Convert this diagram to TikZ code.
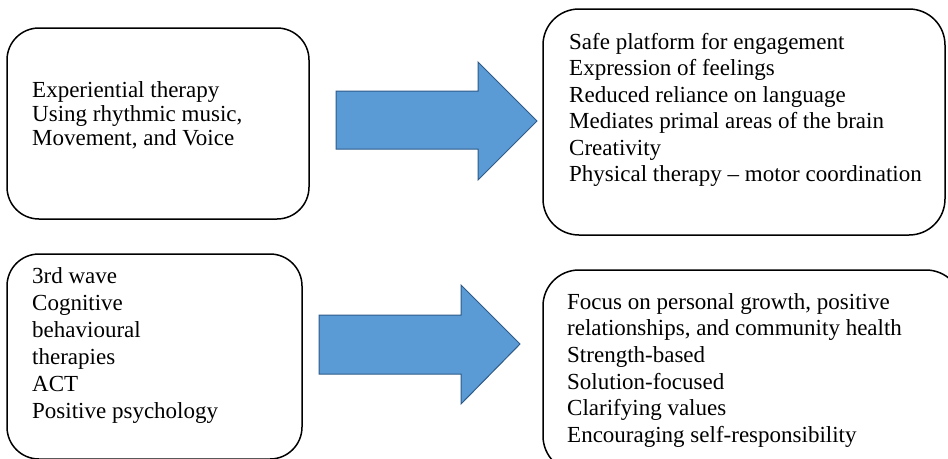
\documentclass[tikz,border=0pt]{standalone}
\usepackage{fontspec}
\setmainfont{Liberation Serif}
\definecolor{arrowfill}{HTML}{5B9BD5}
\definecolor{arrowline}{HTML}{2E5C8A}
\begin{document}
\begin{tikzpicture}[x=1pt,y=-1pt,
  boxstyle/.style={draw=black,line width=1.5pt},
  arrowstyle/.style={fill=arrowfill,draw=arrowline,line width=1pt,line join=miter},
  txt/.style={inner sep=0pt,anchor=base west,align=left,font=\fontsize{23}{26.5}\selectfont}]
\useasboundingbox (0,0) rectangle (948,458);
\begin{scope}
\clip (0,0) rectangle (948,458);
\draw[boxstyle,rounded corners=32pt] (7,28) rectangle (309,219);
\draw[boxstyle,rounded corners=36pt] (543,9) rectangle (945,235);
\draw[boxstyle,rounded corners=32pt] (7,254) rectangle (302,459);
\draw[boxstyle,rounded corners=36pt] (543,270) rectangle (962,472);
\end{scope}
\draw[arrowstyle] (336,91) -- (478,91) -- (478,62) -- (537,121) -- (478,180) -- (478,149) -- (336,149) -- cycle;
\draw[arrowstyle] (319,315) -- (461,315) -- (461,285) -- (520,344) -- (461,404) -- (461,374) -- (319,374) -- cycle;
\node[txt,font=\fontsize{23}{24}\selectfont] (t1) at (32,145) {Experiential therapy\\Using rhythmic music,\\Movement, and Voice};
\node[txt] (t2) at (569,181.5) {Safe platform for engagement\\Expression of feelings\\Reduced reliance on language\\Mediates primal areas of the brain\\Creativity\\Physical therapy -- motor coordination};
\node[txt,font=\fontsize{23}{27}\selectfont] (t3) at (32,418) {3rd wave\\Cognitive\\behavioural\\therapies\\ACT\\Positive psychology};
\node[txt,font=\fontsize{23}{26.7}\selectfont] (t4) at (567,442.5) {Focus on personal growth, positive\\relationships, and community health\\Strength-based\\Solution-focused\\Clarifying values\\Encouraging self-responsibility};
\end{tikzpicture}
\end{document}
